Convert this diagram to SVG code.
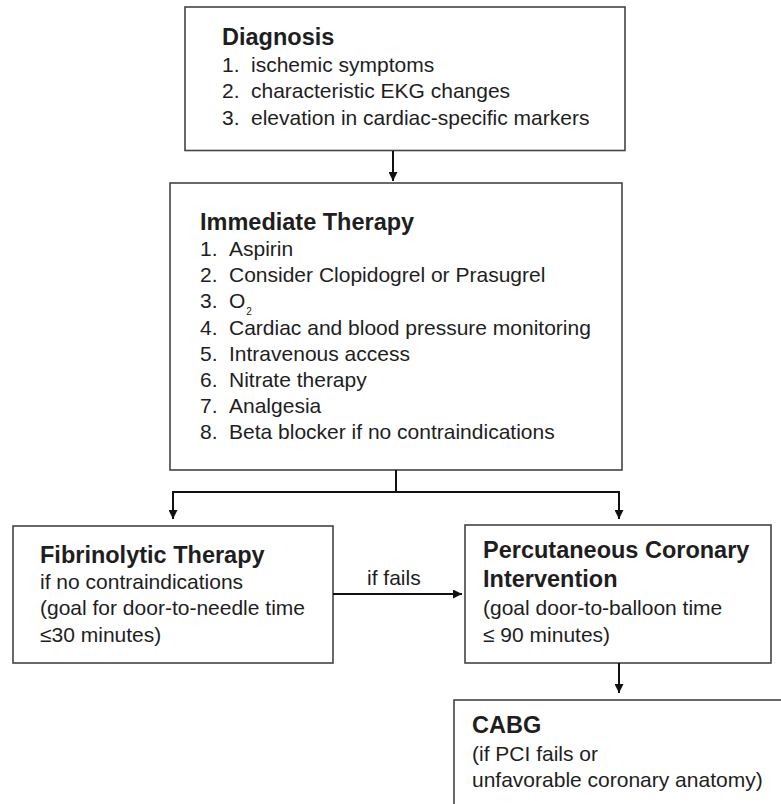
<svg xmlns="http://www.w3.org/2000/svg" width="781" height="804" viewBox="0 0 781 804">
  <defs>
    <marker id="arrow" viewBox="0 0 10 10" refX="10" refY="5" markerWidth="9" markerHeight="9" markerUnits="userSpaceOnUse" orient="auto">
      <path d="M0,0 L10,5 L0,10 z" fill="#111"/>
    </marker>
    <style>
      .box { fill: #fff; stroke: #444; stroke-width: 1.6; }
      .t { font-family: "Liberation Sans", Arial, sans-serif; font-size: 21px; fill: #1e1e1e; }
      .h { font-family: "Liberation Sans", Arial, sans-serif; font-size: 23.5px; font-weight: bold; fill: #1e1e1e; }
      .conn { fill: none; stroke: #111; stroke-width: 2; }
    </style>
  </defs>
  <rect width="781" height="804" fill="#fff"/>

  <g id="diagnosis">
    <rect class="box" x="185" y="7" width="440" height="143.5"/>
    <text class="h" x="222" y="45">Diagnosis</text>
    <text class="t" x="222" y="72">1.</text><text class="t" x="251" y="72">ischemic symptoms</text>
    <text class="t" x="222" y="98">2.</text><text class="t" x="251" y="98">characteristic EKG changes</text>
    <text class="t" x="222" y="125">3.</text><text class="t" x="251" y="125">elevation in cardiac-specific markers</text>
  </g>

  <g id="immediate-therapy">
    <rect class="box" x="170" y="183" width="452" height="287"/>
    <text class="h" x="200" y="230">Immediate Therapy</text>
    <text class="t" x="200" y="256">1.</text><text class="t" x="229" y="256">Aspirin</text>
    <text class="t" x="200" y="282">2.</text><text class="t" x="229" y="282">Consider Clopidogrel or Prasugrel</text>
    <text class="t" x="200" y="308">3.</text><text class="t" x="229" y="308">O<tspan dx="1" dy="7" font-size="10">2</tspan></text>
    <text class="t" x="200" y="335">4.</text><text class="t" x="229" y="335">Cardiac and blood pressure monitoring</text>
    <text class="t" x="200" y="361">5.</text><text class="t" x="229" y="361">Intravenous access</text>
    <text class="t" x="200" y="387">6.</text><text class="t" x="229" y="387">Nitrate therapy</text>
    <text class="t" x="200" y="413">7.</text><text class="t" x="229" y="413">Analgesia</text>
    <text class="t" x="200" y="439">8.</text><text class="t" x="229" y="439">Beta blocker if no contraindications</text>
  </g>

  <g id="fibrinolytic-therapy">
    <rect class="box" x="13" y="526" width="320" height="137"/>
    <text class="h" x="40" y="563">Fibrinolytic Therapy</text>
    <text class="t" x="40" y="589">if no contraindications</text>
    <text class="t" x="40" y="615">(goal for door-to-needle time</text>
    <text class="t" x="40" y="642">≤30 minutes)</text>
  </g>

  <g id="pci">
    <rect class="box" x="465" y="525" width="306" height="138"/>
    <text class="h" x="483" y="558">Percutaneous Coronary</text>
    <text class="h" x="483" y="587">Intervention</text>
    <text class="t" x="483" y="615">(goal door-to-balloon time</text>
    <text class="t" x="483" y="642">≤ 90 minutes)</text>
  </g>

  <g id="cabg">
    <rect class="box" x="454" y="700" width="340" height="120"/>
    <text class="h" x="472" y="733">CABG</text>
    <text class="t" x="472" y="761">(if PCI fails or</text>
    <text class="t" x="472" y="787">unfavorable coronary anatomy)</text>
  </g>

  <g id="connectors">
    <line class="conn" x1="393" y1="151" x2="393" y2="181" marker-end="url(#arrow)"/>
    <line class="conn" x1="396" y1="470" x2="396" y2="492"/>
    <polyline class="conn" points="396,492 173,492 173,519" marker-end="url(#arrow)"/>
    <polyline class="conn" points="396,492 619,492 619,519" marker-end="url(#arrow)"/>
    <line class="conn" x1="333" y1="594" x2="462" y2="594" marker-end="url(#arrow)"/>
    <text class="t" x="367" y="585">if fails</text>
    <line class="conn" x1="619" y1="663" x2="619" y2="693" marker-end="url(#arrow)"/>
  </g>
</svg>
